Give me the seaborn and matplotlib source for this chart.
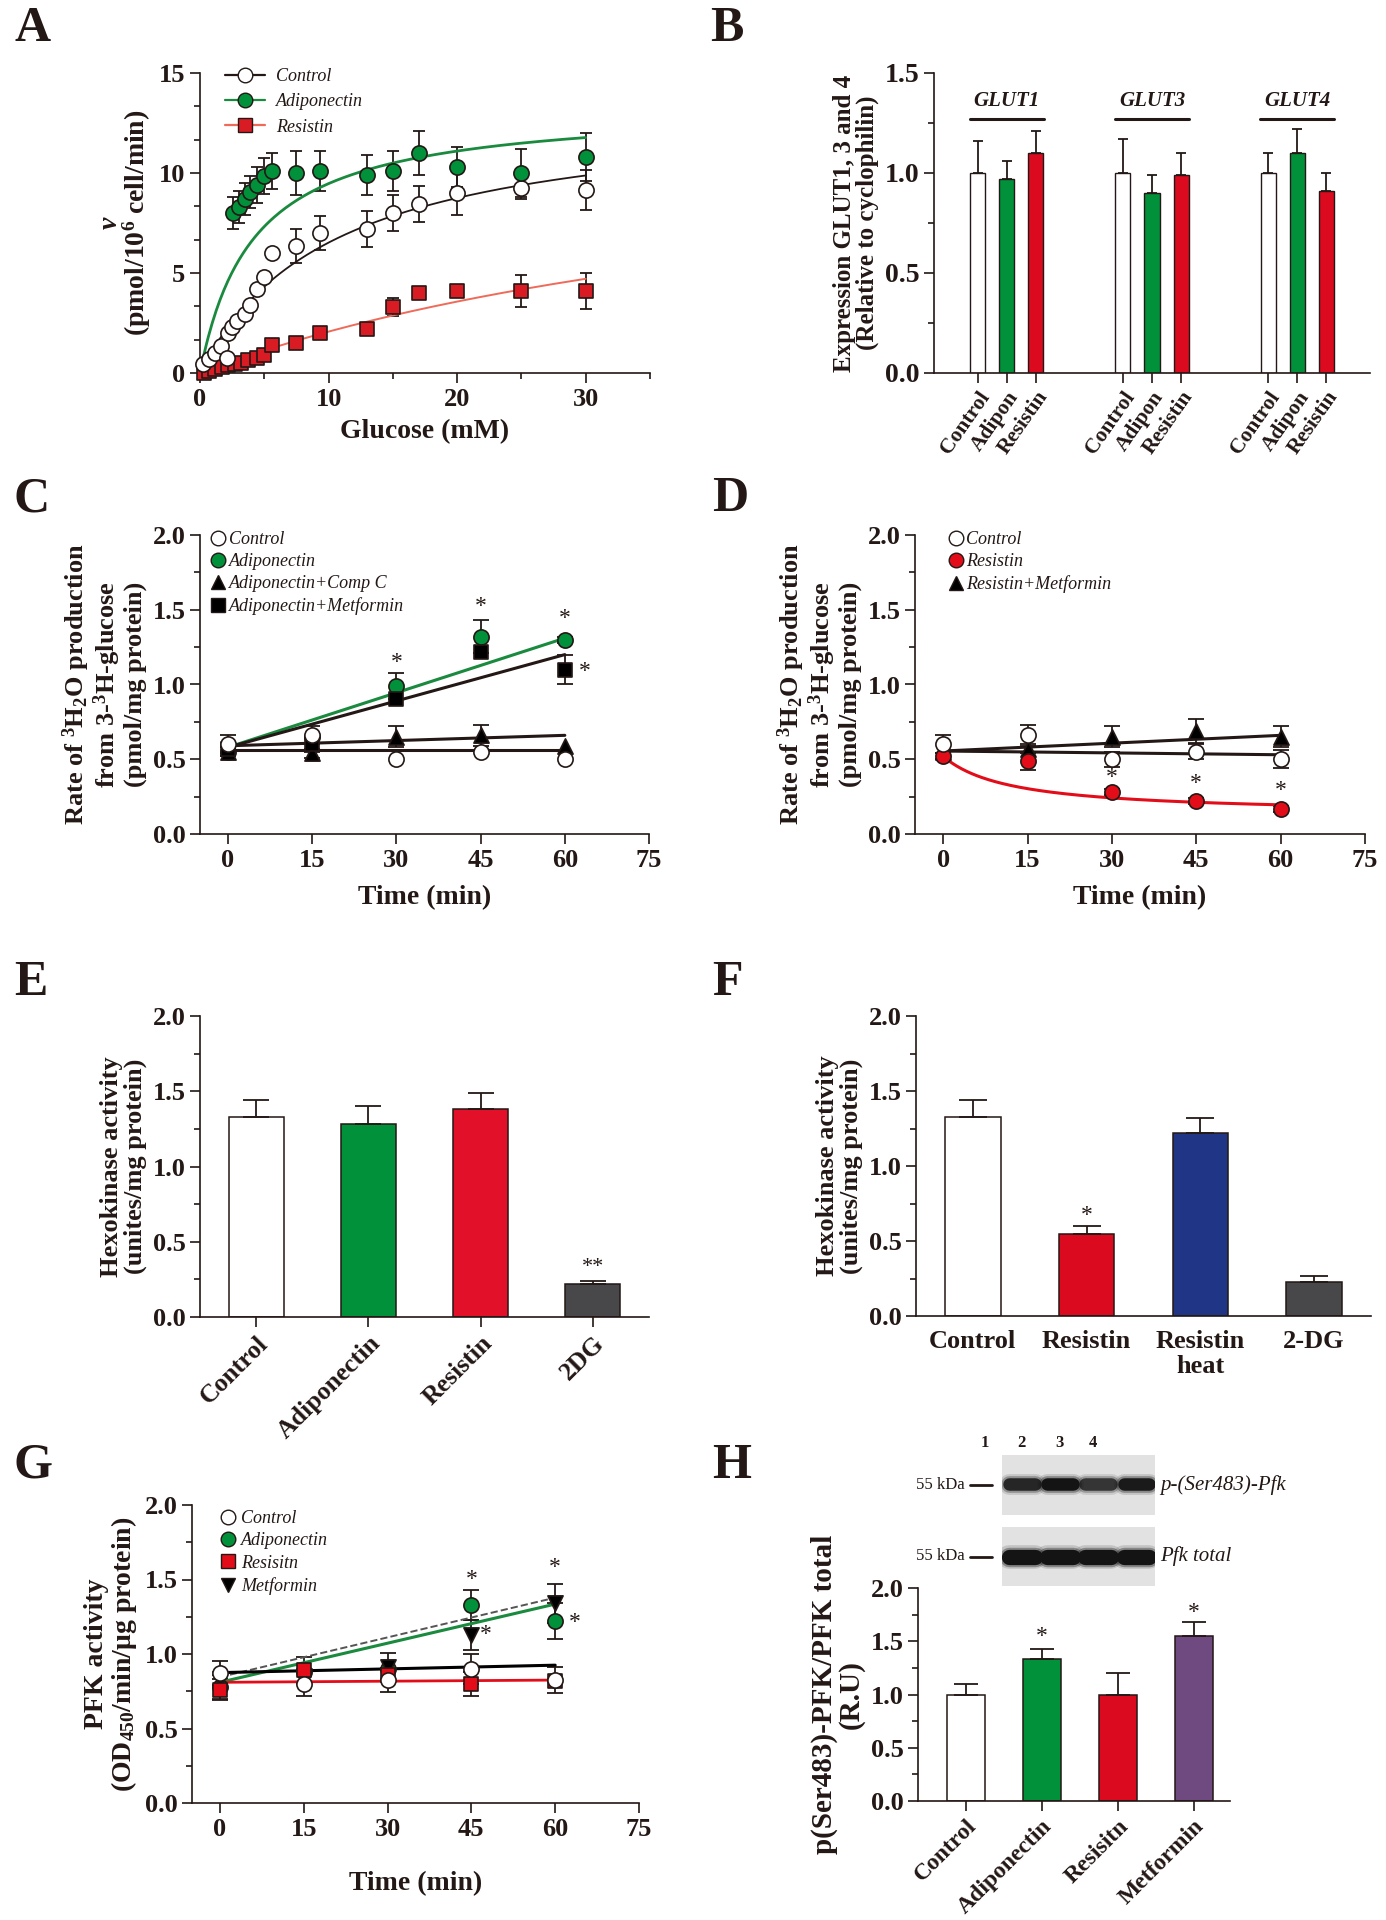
import numpy as np
import matplotlib
matplotlib.use("Agg")
import matplotlib.pyplot as plt
import seaborn as sns
from matplotlib.lines import Line2D
from matplotlib.ticker import MultipleLocator

W, H = 1386, 1920
INK = "#231815"
GREEN = "#00913a"
RED = "#dc0a1e"
NAVY = "#213586"
GREY = "#48484a"
PURPLE = "#6f4a80"

# ---------------- data ----------------
# A: glucose uptake kinetics
glc_ctrl = [0.25, 0.7, 1.2, 1.6, 2.1, 2.2, 2.5, 2.9, 3.5, 3.9, 4.4, 5.0, 5.6, 7.5, 9.3, 13, 15, 17, 20, 25, 30]
v_ctrl = [0.45, 0.7, 1.0, 1.35, 0.75, 2.0, 2.3, 2.6, 2.95, 3.4, 4.2, 4.8, 6.0, 6.35, 7.0, 7.2, 8.0, 8.45, 9.0, 9.25, 9.15]
err_ctrl = [0, 0, 0, 0, 0, 0, 0, 0, 0, 0, 0, 0, 0, 0.85, 0.85, 0.9, 0.9, 0.9, 1.1, 0.55, 1.0]
glc_adipo = [2.6, 3.0, 3.5, 3.9, 4.4, 5.0, 5.6, 7.5, 9.3, 13, 15, 17, 20, 25, 30]
v_adipo = [8.0, 8.3, 8.7, 9.05, 9.4, 9.85, 10.1, 10.0, 10.1, 9.9, 10.1, 11.0, 10.3, 10.0, 10.8]
err_adipo = [0.8, 0.8, 0.8, 0.8, 0.9, 0.9, 0.9, 1.1, 1.0, 1.0, 1.0, 1.1, 1.0, 1.2, 1.2]
glc_res = [0.3, 0.7, 1.2, 1.7, 2.2, 2.7, 3.2, 3.7, 4.4, 5.0, 5.6, 7.5, 9.3, 13, 15, 17, 20, 25, 30]
v_res = [0.0, 0.1, 0.2, 0.3, 0.4, 0.45, 0.5, 0.65, 0.75, 0.9, 1.4, 1.5, 2.0, 2.2, 3.3, 4.0, 4.1, 4.1, 4.1]
err_res = [0, 0, 0, 0, 0, 0, 0, 0, 0, 0, 0, 0, 0, 0, 0.45, 0, 0, 0.8, 0.9]
# Michaelis-Menten fits (Vmax, Km) as drawn
mm_ctrl = (13.3, 10.4)
mm_adipo = (13.4, 4.15)
mm_res = (13.0, 52.8)

# B: GLUT expression
b_pos = [1, 2, 3, 6, 7, 8, 11, 12, 13]
b_treat = ["Control", "Adipon", "Resistin"] * 3
b_vals = [1.0, 0.97, 1.10, 1.0, 0.90, 0.99, 1.0, 1.10, 0.91]
b_err = [0.16, 0.09, 0.11, 0.17, 0.09, 0.11, 0.10, 0.12, 0.09]
b_genes = ["GLUT1", "GLUT3", "GLUT4"]

# C / D: 3H2O production
t_min = [0, 15, 30, 45, 60]
c_ctrl = [0.60, 0.66, 0.50, 0.55, 0.50]
c_ctrl_err = [0.06, 0.06, 0, 0, 0]
c_adipo = [0.55, 0.65, 0.99, 1.32, 1.30]
c_adipo_err = [0.03, 0, 0.09, 0.11, 0.02]
c_compc = [0.55, 0.54, 0.65, 0.66, 0.59]
c_compc_err = [0.03, 0.03, 0.07, 0.07, 0]
c_metf = [0.57, 0.60, 0.90, 1.22, 1.10]
c_metf_err = [0, 0.05, 0, 0, 0.10]
fit_t = [0, 60]
c_fit_ctrl = [0.56, 0.56]
c_fit_adipo = [0.58, 1.31]
c_fit_compc = [0.59, 0.66]
c_fit_metf = [0.58, 1.20]

d_ctrl = [0.60, 0.66, 0.50, 0.55, 0.50]
d_ctrl_err = [0.06, 0.07, 0.05, 0.05, 0.06]
d_res = [0.52, 0.49, 0.28, 0.22, 0.17]
d_res_err = [0.02, 0.06, 0.02, 0.02, 0.02]
d_resmet = [0.55, 0.57, 0.65, 0.69, 0.65]
d_resmet_err = [0, 0.03, 0.07, 0.08, 0.07]
d_fit_ctrl = [0.555, 0.53]
d_fit_resmet = [0.555, 0.66]
d_res_decay = (0.52, 0.13, 12.0)  # start, floor, half-time of drawn decay

# E / F: hexokinase
e_cats = ["Control", "Adiponectin", "Resistin", "2DG"]
e_vals = [1.33, 1.28, 1.38, 0.22]
e_err = [0.11, 0.12, 0.11, 0.02]
f_cats = ["Control", "Resistin", "Resistin\nheat", "2-DG"]
f_vals = [1.33, 0.55, 1.22, 0.23]
f_err = [0.11, 0.05, 0.10, 0.04]

# G: PFK activity
g_ctrl = [0.875, 0.80, 0.825, 0.90, 0.825]
g_ctrl_err = [0.08, 0.085, 0.08, 0.10, 0.085]
g_adipo = [0.78, 0.88, 0.90, 1.33, 1.22]
g_adipo_err = [0.08, 0, 0, 0.10, 0.12]
g_res = [0.76, 0.89, 0.86, 0.80, 0.82]
g_res_err = [0.07, 0.09, 0, 0.08, 0]
g_metf = [0.83, 0.85, 0.915, 1.125, 1.34]
g_metf_err = [0, 0, 0.09, 0.10, 0.13]
g_fit_ctrl = [0.875, 0.925]
g_fit_res = [0.81, 0.825]
g_fit_adipo = [0.81, 1.335]
g_fit_metf = [0.845, 1.378]

# H: p-PFK / PFK
h_cats = ["Control", "Adiponectin", "Resisitn", "Metformin"]
h_vals = [1.0, 1.33, 1.0, 1.55]
h_err = [0.10, 0.10, 0.20, 0.13]
blot_lanes = ["1", "2", "3", "4"]
p_pfk_band = [0.85, 1.0, 0.75, 0.95]
pfk_total_band = [1.0, 1.0, 1.0, 1.0]

# ---------------- style ----------------
sns.set_theme(style="ticks")
plt.rcParams.update({
    "font.weight": "bold",
    "axes.labelweight": "bold",
    "axes.labelcolor": INK,
    "text.color": INK,
    "mathtext.fontset": "custom",
    "mathtext.rm": "Liberation Serif:bold",
    "mathtext.bf": "Liberation Serif:bold",
    "mathtext.it": "Liberation Serif:italic",
    "mathtext.default": "rm",
})
plt.rcParams["font.family"] = ["Liberation Serif", "DejaVu Serif"]

fig = plt.figure(figsize=(W / 100, H / 100), dpi=100)
fig.patch.set_facecolor("white")


def box(l, t, r, b):
    return fig.add_axes([l / W, 1 - b / H, (r - l) / W, (b - t) / H])


def tidy(ax, fs=19):
    sns.despine(ax=ax)
    for s in ("left", "bottom"):
        ax.spines[s].set_linewidth(1.2)
        ax.spines[s].set_color(INK)
    ax.set_facecolor("white")
    ax.tick_params(which="major", direction="out", length=7, width=1.2, color=INK,
                   labelsize=fs, labelcolor=INK)
    ax.tick_params(which="minor", direction="out", length=4, width=1.2, color=INK)


def errs(ax, x, y, e, cap=5, lower=True):
    x, y, e = np.asarray(x, float), np.asarray(y, float), np.asarray(e, float)
    k = e > 0
    lo = e[k] if lower else np.zeros(k.sum())
    ax.errorbar(x[k], y[k], yerr=[lo, e[k]], fmt="none", ecolor=INK, elinewidth=1.3,
                capsize=cap, capthick=1.3, zorder=2)


def dots(ax, x, y, marker, face, s=120, z=4):
    sns.scatterplot(x=x, y=y, marker=marker, color=face, edgecolor=INK, linewidth=1.2,
                    s=s, ax=ax, zorder=z, clip_on=False, legend=False)


def star(ax, x, y, txt="*", fs=17):
    ax.text(x, y, txt, ha="center", va="center", fontsize=fs, fontweight="normal")


def handle(marker, face, line=None, ms=10.5):
    return Line2D([], [], marker=marker, markerfacecolor=face, markeredgecolor=INK, ms=ms,
                  ls="-" if line else "none", color=line or INK, lw=1.6)


leg_font = {"style": "italic", "weight": "normal", "size": 13}


def letter(x, y, s):
    fig.text(x / W, 1 - y / H, s, fontsize=36, fontweight="bold", va="top", ha="left")


def bars(ax, cats, vals, colors, width):
    sns.barplot(x=cats, y=vals, hue=cats, palette=dict(zip(cats, colors)), width=width,
                saturation=1, edgecolor=INK, linewidth=1.1, legend=False, errorbar=None, ax=ax)


# ---------------- A ----------------
axA = box(200, 73, 650, 373)
tidy(axA)
errs(axA, glc_ctrl, v_ctrl, err_ctrl, cap=4.5)
errs(axA, glc_adipo, v_adipo, err_adipo, cap=4.5)
errs(axA, glc_res, v_res, err_res, cap=4.5)
xs = np.linspace(0.05, 30, 200)
for (vmax, km), col, lw in [(mm_ctrl, INK, 1.3), (mm_adipo, "#1a8a3e", 2.0), (mm_res, "#f06a5a", 1.4)]:
    sns.lineplot(x=xs, y=vmax * xs / (km + xs), color=col, lw=lw, ax=axA, zorder=3)
dots(axA, glc_res, v_res, "s", "#d91c24", s=110)
dots(axA, glc_ctrl, v_ctrl, "o", "white", s=120)
dots(axA, glc_adipo, v_adipo, "o", GREEN, s=120)
axA.set_xlim(0, 35)
axA.set_ylim(0, 15)
axA.xaxis.set_major_locator(MultipleLocator(10))
axA.xaxis.set_minor_locator(MultipleLocator(5))
axA.yaxis.set_major_locator(MultipleLocator(5))
axA.yaxis.set_minor_locator(MultipleLocator(5 / 3))
axA.set_xlabel("Glucose (mM)", fontsize=20, labelpad=6)
axA.set_ylabel(r"$\mathit{v}$" + "\n" + r"(pmol/10$^{6}$ cell/min)", fontsize=20, linespacing=0.9)
axA.legend(handles=[handle("o", "white", INK), handle("o", GREEN, "#1a8a3e"), handle("s", "#d91c24", "#f06a5a")],
           labels=["Control", "Adiponectin", "Resistin"], prop=leg_font, frameon=False,
           loc="upper left", bbox_to_anchor=(0.02, 1.07), handlelength=2.2, labelspacing=0.45,
           handletextpad=0.6)

# ---------------- B ----------------
axB = box(934, 73, 1370, 373)
tidy(axB, fs=20)
sns.barplot(x=b_pos, y=b_vals, hue=b_treat,
            palette={"Control": "white", "Adipon": GREEN, "Resistin": RED},
            native_scale=True, width=0.52, dodge=False, saturation=1, edgecolor=INK,
            linewidth=1.0, legend=False, errorbar=None, ax=axB)
errs(axB, b_pos, b_vals, b_err, cap=3.5, lower=False)
axB.set_xlim(-0.5, 14.5)
axB.set_ylim(0, 1.5)
axB.yaxis.set_major_locator(MultipleLocator(0.5))
axB.yaxis.set_minor_locator(MultipleLocator(0.25))
axB.set_xticks(b_pos)
axB.set_xticklabels(b_treat, rotation=55, ha="right", rotation_mode="anchor", fontsize=15.5)
for i, g in enumerate(b_genes):
    c = b_pos[3 * i + 1]
    axB.text(c, 1.31, g, ha="center", va="bottom", fontsize=15, fontstyle="italic", fontweight="bold")
    axB.plot([c - 1.27, c + 1.27], [1.27, 1.27], color=INK, lw=2.2, clip_on=False)
axB.set_ylabel("Expression GLUT1, 3 and 4\n(Relative to cyclophilin)", fontsize=18, linespacing=1.0)

# ---------------- C ----------------
axC = box(200, 535, 649, 834)
tidy(axC)
for y, e in [(c_ctrl, c_ctrl_err), (c_adipo, c_adipo_err), (c_compc, c_compc_err), (c_metf, c_metf_err)]:
    errs(axC, t_min, y, e, cap=6)
sns.lineplot(x=fit_t, y=c_fit_adipo, color="#1a8a3e", lw=2.2, ax=axC, zorder=3)
for f in (c_fit_ctrl, c_fit_compc, c_fit_metf):
    sns.lineplot(x=fit_t, y=f, color=INK, lw=2.2, ax=axC, zorder=3)
dots(axC, t_min, c_adipo, "o", GREEN)
dots(axC, t_min, c_compc, "^", "black")
dots(axC, t_min, c_metf, "s", "black", s=105)
dots(axC, t_min, c_ctrl, "o", "white", z=5)
for x, y in [(30, 1.15), (45, 1.52), (60, 1.44), (63.5, 1.09)]:
    star(axC, x, y)
axC.legend(handles=[handle("o", "white"), handle("o", GREEN), handle("^", "black"), handle("s", "black")],
           labels=["Control", "Adiponectin", "Adiponectin+Comp C", "Adiponectin+Metformin"],
           prop=leg_font, frameon=False, loc="upper left", bbox_to_anchor=(0.0, 1.05),
           handlelength=0.8, handletextpad=0.2, labelspacing=0.28, borderaxespad=0.2)

# ---------------- D ----------------
axD = box(915, 535, 1365, 834)
tidy(axD)
for y, e in [(d_ctrl, d_ctrl_err), (d_res, d_res_err), (d_resmet, d_resmet_err)]:
    errs(axD, t_min, y, e, cap=6)
for f in (d_fit_ctrl, d_fit_resmet):
    sns.lineplot(x=fit_t, y=f, color=INK, lw=2.2, ax=axD, zorder=3)
y0, floor, half = d_res_decay
td = np.linspace(0, 60, 200)
sns.lineplot(x=td, y=floor + (y0 - floor) / (1 + td / half), color="#e30d1a", lw=2.2, ax=axD, zorder=3)
dots(axD, t_min, d_resmet, "^", "black")
dots(axD, t_min, d_res, "o", "#e30d1a")
dots(axD, t_min, d_ctrl, "o", "white", z=5)
for x, y in [(30, 0.38), (45, 0.335), (60, 0.29)]:
    star(axD, x, y)
axD.legend(handles=[handle("o", "white"), handle("o", "#e30d1a"), handle("^", "black")],
           labels=["Control", "Resistin", "Resistin+Metformin"],
           prop=leg_font, frameon=False, loc="upper left", bbox_to_anchor=(0.05, 1.05),
           handlelength=0.8, handletextpad=0.2, labelspacing=0.28, borderaxespad=0.2)

for ax in (axC, axD):
    ax.set_xlim(-5, 75)
    ax.set_ylim(0, 2.0)
    ax.set_xticks([0, 15, 30, 45, 60, 75])
    ax.yaxis.set_major_locator(MultipleLocator(0.5))
    ax.yaxis.set_minor_locator(MultipleLocator(0.25))
    ax.yaxis.set_major_formatter(matplotlib.ticker.FormatStrFormatter("%.1f"))
    ax.set_xlabel("Time (min)", fontsize=20, labelpad=10)
    ax.set_ylabel("Rate of $^{3}$H$_{2}$O production\nfrom 3-$^{3}$H-glucose\n(pmol/mg protein)",
                  fontsize=19, linespacing=1.0)

# ---------------- E ----------------
axE = box(200, 1016, 649, 1317)
tidy(axE)
bars(axE, e_cats, e_vals, ["white", GREEN, "#e3102a", GREY], 0.49)
errs(axE, range(4), e_vals, e_err, cap=9.5, lower=False)
star(axE, 3, 0.33, "**", fs=16)
axE.set_xlim(-0.5, 3.5)
axE.set_xticks(range(4))
axE.set_xticklabels(e_cats, rotation=45, ha="right", rotation_mode="anchor", fontsize=18.5)
axE.set_ylabel("Hexokinase activity\n(unites/mg protein)", fontsize=19, linespacing=1.0)

# ---------------- F ----------------
axF = box(916, 1016, 1371, 1316)
tidy(axF)
bars(axF, f_cats, f_vals, ["white", RED, NAVY, GREY], 0.49)
errs(axF, range(4), f_vals, f_err, cap=10, lower=False)
star(axF, 1, 0.67)
axF.set_xlim(-0.5, 3.5)
axF.set_xticks(range(4))
axF.set_xticklabels(f_cats, fontsize=19, linespacing=1.1)
axF.tick_params(axis="x", length=0, pad=10)
axF.set_ylabel("Hexokinase activity\n(unites/mg protein)", fontsize=19, linespacing=1.0)

# ---------------- G ----------------
axG = box(192, 1505, 639, 1803)
tidy(axG)
for y, e in [(g_ctrl, g_ctrl_err), (g_adipo, g_adipo_err), (g_res, g_res_err), (g_metf, g_metf_err)]:
    errs(axG, t_min, y, e, cap=6)
sns.lineplot(x=fit_t, y=g_fit_metf, color="#555555", lw=1.4, ls="--", ax=axG, zorder=3)
sns.lineplot(x=fit_t, y=g_fit_adipo, color="#1a8a3e", lw=2.2, ax=axG, zorder=3)
sns.lineplot(x=fit_t, y=g_fit_ctrl, color="black", lw=2.2, ax=axG, zorder=3)
sns.lineplot(x=fit_t, y=g_fit_res, color="#e30d1a", lw=2.0, ax=axG, zorder=3)
dots(axG, t_min, g_adipo, "o", GREEN)
dots(axG, t_min, g_metf, "v", "black")
dots(axG, t_min, g_res, "s", "#e30d1a", s=105)
dots(axG, t_min, g_ctrl, "o", "white", z=5)
for x, y in [(45, 1.50), (60, 1.58), (47.5, 1.13), (63.5, 1.21)]:
    star(axG, x, y)
axG.legend(handles=[handle("o", "white"), handle("o", GREEN), handle("s", "#e30d1a"), handle("v", "black")],
           labels=["Control", "Adiponectin", "Resisitn", "Metformin"],
           prop=leg_font, frameon=False, loc="upper left", bbox_to_anchor=(0.04, 1.02),
           handlelength=0.8, handletextpad=0.35, labelspacing=0.3, borderaxespad=0.2)
axG.set_xlim(-5, 75)
axG.set_ylim(0, 2.0)
axG.set_xticks([0, 15, 30, 45, 60, 75])
axG.yaxis.set_major_locator(MultipleLocator(0.5))
axG.yaxis.set_minor_locator(MultipleLocator(0.25))
axG.yaxis.set_major_formatter(matplotlib.ticker.FormatStrFormatter("%.1f"))
axG.set_xlabel("Time (min)", fontsize=20, labelpad=22)
axG.set_ylabel("PFK activity\n(OD$_{450}$/min/μg protein)", fontsize=20, linespacing=1.0)

# ---------------- H ----------------
axH = box(918, 1588, 1230, 1801)
tidy(axH)
bars(axH, h_cats, h_vals, ["white", GREEN, RED, PURPLE], 0.5)
errs(axH, range(4), h_vals, h_err, cap=8.5, lower=False)
star(axH, 1, 1.54)
star(axH, 3, 1.77)
axH.set_xlim(-0.63, 3.48)
axH.set_xticks(range(4))
axH.set_xticklabels(h_cats, rotation=45, ha="right", rotation_mode="anchor", fontsize=17)
axH.set_ylabel("p(Ser483)-PFK/PFK total\n(R.U)", fontsize=21, linespacing=1.0)

for ax in (axE, axF, axH):
    ax.set_ylim(0, 2.0)
    ax.set_xlabel("")
    ax.yaxis.set_major_locator(MultipleLocator(0.5))
    ax.yaxis.set_minor_locator(MultipleLocator(0.25))
    ax.yaxis.set_major_formatter(matplotlib.ticker.FormatStrFormatter("%.1f"))
axB.yaxis.set_major_formatter(matplotlib.ticker.FormatStrFormatter("%.1f"))

# western blot strips
for (t, b), band, lw, yb, name in [((1455, 1515), p_pfk_band, 9, 0.52, "p-(Ser483)-Pfk"),
                                     ((1527, 1586), pfk_total_band, 11, 0.50, "Pfk total")]:
    bx = box(1002, t, 1155, b)
    bx.set_facecolor("#e2e2e2")
    for i, a in enumerate(band):
        for extra, alpha in [(6, 0.15), (3, 0.35), (0, 1.0)]:
            bx.plot([i + 0.18, i + 0.85], [yb, yb], color=(0.08, 0.08, 0.08, a * alpha),
                    lw=lw + extra, solid_capstyle="round")
    bx.set_xlim(0, 4)
    bx.set_ylim(0, 1)
    bx.set_xticks([])
    bx.set_yticks([])
    for s in bx.spines.values():
        s.set_visible(False)
    ym = 1 - (t + b) / 2 / H
    fig.text(965 / W, ym, "55 kDa", ha="right", va="center", fontsize=12, fontweight="normal")
    fig.add_artist(Line2D([970 / W, 992 / W], [ym, ym], color=INK, lw=2))
    fig.text(1160 / W, ym, name, ha="left", va="center", fontsize=15, fontstyle="italic",
             fontweight="normal")
for x, lab in zip([985, 1021, 1059, 1093], blot_lanes):
    fig.text(x / W, 1 - 1443 / H, lab, ha="center", va="center", fontsize=12, fontweight="bold")

# panel letters
for x, y, s in [(14, 6, "A"), (710, 6, "B"), (14, 476, "C"), (712, 476, "D"),
                (14, 960, "E"), (712, 960, "F"), (14, 1443, "G"), (712, 1443, "H")]:
    letter(x, y, s)

fig.savefig("out.png", dpi=100, facecolor="white")
